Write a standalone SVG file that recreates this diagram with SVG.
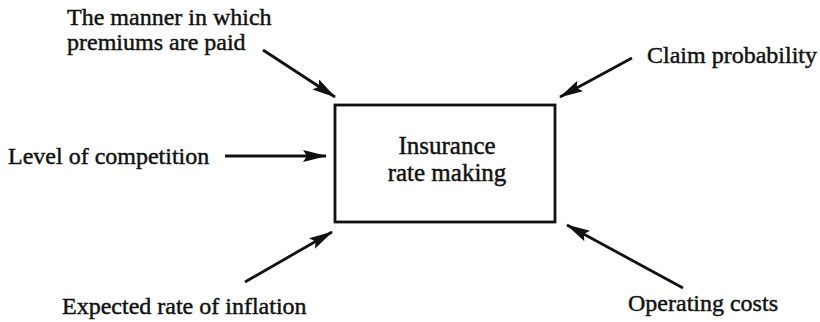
<svg xmlns="http://www.w3.org/2000/svg" width="820" height="322" viewBox="0 0 820 322">
  <style>
    text { font-family: "Liberation Serif", "Times New Roman", serif; font-size: 24px; fill: #111; stroke: #111; stroke-width: 0.45; }
    .center { font-size: 25px; text-anchor: middle; }
    .conn { stroke: #111; stroke-width: 2.8; fill: none; marker-end: url(#head); }
    .box { fill: #fff; stroke: #111; stroke-width: 2.8; }
  </style>
  <defs>
    <marker id="head" markerUnits="userSpaceOnUse" markerWidth="26" markerHeight="14" refX="23" refY="6" orient="auto">
      <path d="M0,0 L24,6 L0,12 L4,6 z" fill="#111"/>
    </marker>
  </defs>

  <g id="connectors">
    <line class="conn" x1="263" y1="50" x2="335" y2="97"/>
    <line class="conn" x1="632" y1="58" x2="560" y2="97"/>
    <line class="conn" x1="225" y1="156" x2="326" y2="156"/>
    <line class="conn" x1="245" y1="282" x2="332" y2="232"/>
    <line class="conn" x1="683" y1="288" x2="567" y2="225"/>
  </g>

  <g id="rate-making">
    <rect class="box" x="335" y="105" width="220" height="117"/>
    <text class="center" x="447" y="154">Insurance</text>
    <text class="center" x="447" y="181">rate making</text>
  </g>

  <g id="premium-payment">
    <text x="67" y="25">The manner in which</text>
    <text x="67" y="50">premiums are paid</text>
  </g>

  <g id="claim-probability">
    <text x="647" y="63">Claim probability</text>
  </g>

  <g id="competition">
    <text x="8" y="164">Level of competition</text>
  </g>

  <g id="inflation">
    <text x="62" y="314">Expected rate of inflation</text>
  </g>

  <g id="operating-costs">
    <text x="628" y="311">Operating costs</text>
  </g>
</svg>
